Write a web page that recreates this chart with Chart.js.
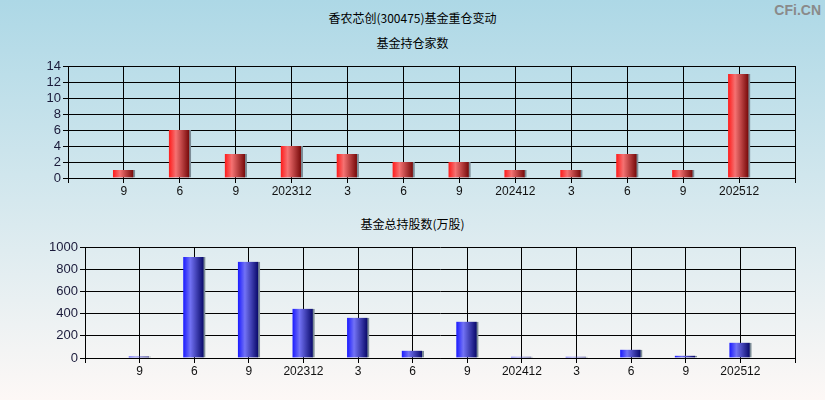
<!DOCTYPE html>
<html>
<head>
<meta charset="utf-8">
<script src="https://cdn.jsdelivr.net/npm/chart.js@4/dist/chart.umd.min.js"></script>
<style>
  body { margin: 0; width: 825px; height: 400px; overflow: hidden;
         background: linear-gradient(to bottom, #add8e6 0%, #fdf8f6 100%);
         font-family: "Noto Sans CJK SC", sans-serif; position: relative; }
  .txt { position: absolute; left: 0; width: 825px; text-align: center; font-size: 12px; color: #000; line-height: 14px; }
  .box { position: absolute; left: 0; width: 825px; }
  #logo { position: absolute; right: 4px; top: 2px; font: bold 14px "Liberation Sans", sans-serif; color: #8a8a8a; }
</style>
</head>
<body>
<div class="txt" style="top:11px">香农芯创(300475)基金重仓变动</div>
<div class="txt" style="top:36px">基金持仓家数</div>
<div class="txt" style="top:217px">基金总持股数(万股)</div>
<div id="logo">CFi.CN</div>
<div class="box" style="top:56px;height:144px"><canvas id="chartTop"></canvas></div>
<div class="box" style="top:235px;height:145px"><canvas id="chartBottom"></canvas></div>
<script>
// categorias (periodos)
var periodos = ['9', '6', '9', '202312', '3', '6', '9', '202412', '3', '6', '9', '202512'];
// numero de fondos
var fondos = [1, 6, 3, 4, 3, 2, 2, 1, 1, 3, 1, 13];
// acciones totales (10k)
var acciones = [14, 910, 866, 444, 363, 66, 327, 12, 12, 75, 21, 138];
var ticksTop = [0, 2, 4, 6, 8, 10, 12, 14];
var ticksBottom = [0, 200, 400, 600, 800, 1000];

// se agrega un hueco vacio a cada lado
var etiquetas = [''].concat(periodos, ['']);

function rellenar(arr) {
  return [null].concat(arr, [null]);
}

function degradado(claro, medio, oscuro) {
  return function (c) {
    var chart = c.chart;
    if (!chart.chartArea || !chart.scales.x) return medio;
    var x = chart.scales.x.getPixelForValue(c.dataIndex);
    var g = chart.ctx.createLinearGradient(x - 11, 0, x + 9, 0);
    g.addColorStop(0, claro);
    g.addColorStop(0.35, medio);
    g.addColorStop(1, oscuro);
    return g;
  };
}

function crearGrafico(id, datos, ticks, anchoY, colores, padTop) {
  var ctx = document.getElementById(id);
  var max = ticks[ticks.length - 1];
  return new Chart(ctx, {
    type: 'bar',
    data: {
      labels: etiquetas,
      datasets: [{
        data: rellenar(datos),
        backgroundColor: degradado(colores[0], colores[1], colores[2]),
        borderColor: '#7c8c96',
        borderWidth: { left: 0, right: 2, top: 0, bottom: 0 },
        borderSkipped: false,
        barThickness: 22
      }]
    },
    options: {
      responsive: true,
      maintainAspectRatio: false,
      animation: false,
      layout: { padding: { top: padTop, right: 30, left: 0, bottom: 0 } },
      plugins: { legend: { display: false }, tooltip: { enabled: false } },
      scales: {
        x: {
          offset: false,
          grid: { offset: false, color: '#000', lineWidth: 1, tickLength: 5, drawTicks: true },
          border: { color: '#000', width: 1 },
          ticks: { color: '#111', font: { family: 'Liberation Sans', size: 12 }, padding: 1, maxRotation: 0, autoSkip: false },
          afterFit: function (s) { s.height = 22; }
        },
        y: {
          min: 0, max: max,
          afterBuildTicks: function (s) { s.ticks = ticks.map(function (v) { return { value: v }; }); },
          grid: { color: '#000', lineWidth: 1, tickLength: 5 },
          border: { color: '#000', width: 1 },
          ticks: {
            color: '#1a1a3a', font: { family: 'Liberation Sans', size: 13 }, padding: 2, autoSkip: false,
            callback: function (v) { return String(v); }
          },
          afterFit: function (s) { s.width = anchoY; }
        }
      }
    }
  });
}

crearGrafico('chartTop', fondos, ticksTop, 68, ['#ff1a1a', '#f57272', '#7a0c0c'], 10);
crearGrafico('chartBottom', acciones, ticksBottom, 85, ['#1a1aff', '#7272f5', '#0c0c6e'], 12);
</script>
</body>
</html>
